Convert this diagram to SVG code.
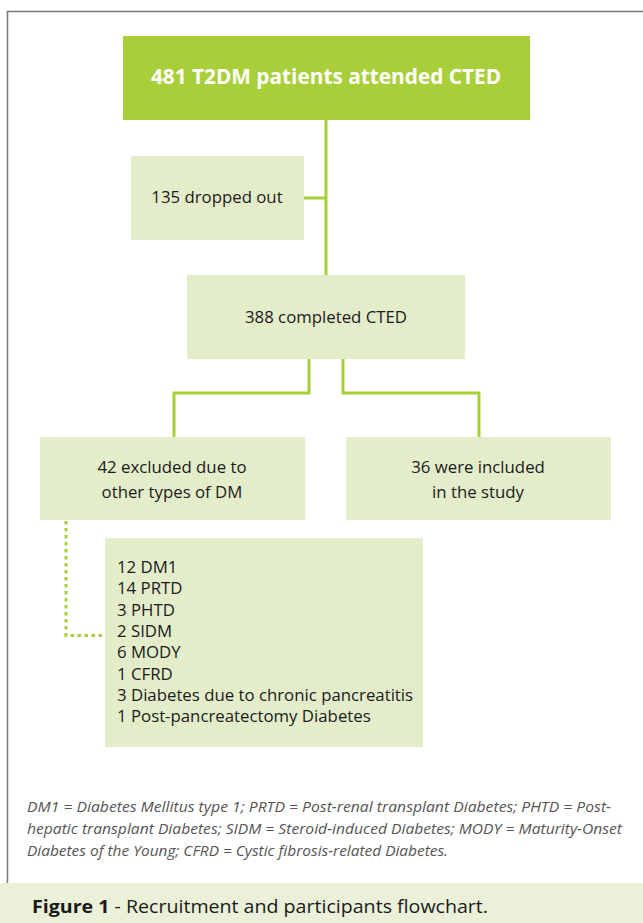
<svg xmlns="http://www.w3.org/2000/svg" width="643" height="923" viewBox="0 0 643 923">
<style>
.box{fill:#e4edca}
.main{fill:#a8cf3a}
.t{font-family:"Open Sans","Noto Sans",sans-serif;font-size:16.8px;fill:#1a1a1a}
.tb{font-family:"Open Sans","Noto Sans",sans-serif;font-size:20.8px;font-weight:bold;fill:#ffffff}
.c{fill:none;stroke:#a8cf3a;stroke-width:3}
.d{fill:none;stroke:#a8cf3a;stroke-width:3;stroke-dasharray:3.5 3.5}
.fn{font-family:"Open Sans","Noto Sans",sans-serif;font-size:14px;font-style:italic;fill:#555555}
.cap{font-family:"Open Sans","Noto Sans",sans-serif;font-size:18.5px;fill:#1a1a1a}
</style>
<rect x="0" y="0" width="643" height="923" fill="#ffffff"/>
<path d="M7.5 898 V11.5 H643" fill="none" stroke="#777777" stroke-width="1.5"/>
<g id="connectors">
<path class="c" d="M326 120 V275"/>
<path class="c" d="M304 198 H326"/>
<path class="c" d="M309 359 V393 H174 V437"/>
<path class="c" d="M343 359 V393 H479 V437"/>
<path class="d" d="M66 521 V635.5 H102"/>
</g>
<g id="n1"><rect class="main" x="123" y="36" width="407" height="84"/>
<text class="tb" x="326" y="84" text-anchor="middle">481 T2DM patients attended CTED</text></g>
<g id="n2"><rect class="box" x="131" y="156" width="173" height="84"/>
<text class="t" x="217" y="203" text-anchor="middle">135 dropped out</text></g>
<g id="n3"><rect class="box" x="187" y="275" width="278" height="84"/>
<text class="t" x="326" y="323" text-anchor="middle">388 completed CTED</text></g>
<g id="n4"><rect class="box" x="40" y="437" width="265" height="83"/>
<text class="t" x="172" y="473" text-anchor="middle">42 excluded due to</text>
<text class="t" x="172" y="498" text-anchor="middle">other types of DM</text></g>
<g id="n5"><rect class="box" x="346" y="437" width="265" height="83"/>
<text class="t" x="478" y="473" text-anchor="middle">36 were included</text>
<text class="t" x="478" y="498" text-anchor="middle">in the study</text></g>
<g id="n6"><rect class="box" x="105" y="538" width="318" height="209"/>
<text class="t" x="117" y="573">12 DM1</text>
<text class="t" x="117" y="594">14 PRTD</text>
<text class="t" x="117" y="616">3 PHTD</text>
<text class="t" x="117" y="637">2 SIDM</text>
<text class="t" x="117" y="658">6 MODY</text>
<text class="t" x="117" y="680">1 CFRD</text>
<text class="t" x="117" y="701">3 Diabetes due to chronic pancreatitis</text>
<text class="t" x="117" y="722">1 Post-pancreatectomy Diabetes</text></g>
<g id="footnote">
<text class="fn" x="27" y="812" textLength="584" lengthAdjust="spacingAndGlyphs">DM1 = Diabetes Mellitus type 1; PRTD = Post-renal transplant Diabetes; PHTD = Post-</text>
<text class="fn" x="27" y="834" textLength="595" lengthAdjust="spacingAndGlyphs">hepatic transplant Diabetes; SIDM = Steroid-induced Diabetes; MODY = Maturity-Onset</text>
<text class="fn" x="27" y="856" textLength="421" lengthAdjust="spacingAndGlyphs">Diabetes of the Young; CFRD = Cystic fibrosis-related Diabetes.</text>
</g>
<g id="caption">
<rect x="0" y="883" width="643" height="40" fill="#ebf1d9"/>
<text class="cap" x="32" y="913" textLength="456" lengthAdjust="spacingAndGlyphs"><tspan font-weight="bold">Figure 1</tspan> - Recruitment and participants flowchart.</text>
</g>
</svg>
